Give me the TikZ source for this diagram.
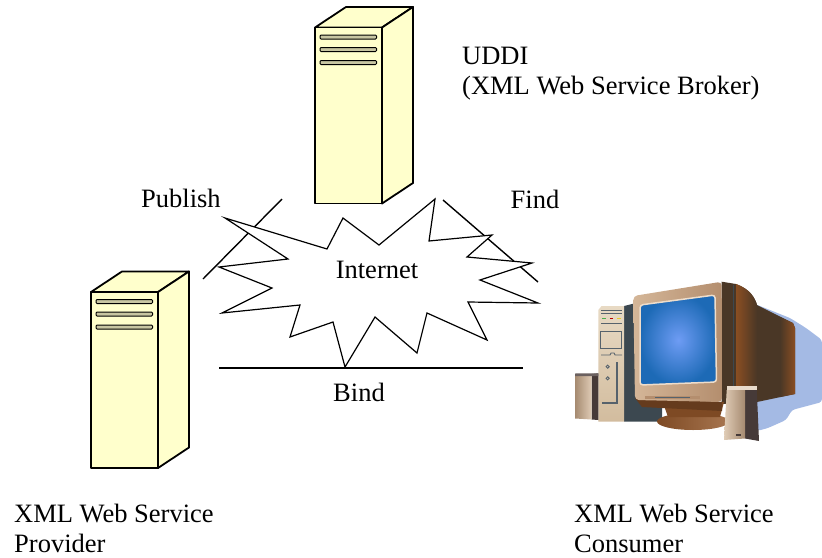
\documentclass[tikz,border=0pt]{standalone}
\usepackage{fontspec}
\setmainfont{Liberation Serif}
\usetikzlibrary{positioning}
\definecolor{servyellow}{HTML}{FFFFCC}
\definecolor{slotgrey}{HTML}{C8C6A2}
\definecolor{shadowblue}{HTML}{A4BAE4}
\definecolor{casedark}{HTML}{4A3726}
\definecolor{caseside}{HTML}{8A4E22}
\definecolor{towerbeige}{HTML}{E8DAC4}
\definecolor{towershade}{HTML}{D2BC9E}
\definecolor{towerside}{HTML}{3C4850}
\definecolor{towerline}{HTML}{56626C}
\definecolor{bezelmain}{HTML}{D4B698}
\definecolor{bezeldark}{HTML}{B48E6E}
\definecolor{bezellight}{HTML}{EEDDCB}
\definecolor{scrlight}{HTML}{6E9CF4}
\definecolor{scrdark}{HTML}{1D6AB6}
\definecolor{standbrown}{HTML}{7E4A24}
\definecolor{standlight}{HTML}{A87650}
\definecolor{spkfront}{HTML}{A58A70}
\definecolor{spklight}{HTML}{E0CCB6}
\definecolor{spkdark}{HTML}{463A38}
\tikzset{
  servbody/.style = {
    draw,
    fill=servyellow,
    line width=1.8pt,
    line join=round
  },
  servslot/.style = {
    draw,
    fill=slotgrey,
    line width=1pt,
    rounded corners=1pt
  },
  burst/.style = {
    draw,
    fill=white,
    line width=1.2pt,
    line join=miter
  },
  link/.style = {
    line width=1.4pt
  },
  lbl/.style = {
    inner sep=0pt,
    font=\fontsize{26.5}{30}\selectfont
  },
  caption/.style = {
    lbl,
    align=left,
    anchor=north west
  }
}

\begin{document}
\begin{tikzpicture}[x=1pt,y=-1pt]
  \useasboundingbox (0,0) rectangle (822,557);

  % the two tower servers (UDDI broker, provider)
  \foreach \sx/\sy in {315/27.5, 91/292}{
    \draw[servbody] (\sx,\sy) -- ++(31,-20.5) -- ++(67,0) -- ++(-31,20.5) -- cycle;
    \draw[servbody] (\sx+67,\sy) -- ++(31,-20.5) -- ++(0,176) -- ++(-31,20.5) -- cycle;
    \draw[servbody] (\sx,\sy) rectangle ++(67,176);
    \foreach \dy in {9.5,22,35}
      \draw[servslot] (\sx+5,\sy+\dy-2) rectangle ++(56.5,4);
  }

  % links
  \coordinate (pubtop) at (282,199);
  \coordinate (pubend) at (203,279);
  \coordinate (findtop) at (443,200);
  \coordinate (findend) at (538,282);
  \coordinate (bindl) at (219,368);
  \coordinate (bindr) at (523,368);
  \coordinate (bindmid) at (359,368);
  \draw[link] (pubtop) -- (pubend);
  \draw[link] (findtop) -- (findend);
  \draw[link] (bindl) -- (bindr);

  % internet cloud
  \draw[burst] (225,218) -- (327,249) -- (343,218) -- (379,245) -- (435,199)
    -- (429,241) -- (492,235) -- (467,257) -- (532,263) -- (480,280)
    -- (538,303) -- (468,302) -- (487,340) -- (427,313) -- (417,353)
    -- (375,317) -- (345,367) -- (333,322) -- (290,337) -- (300,305)
    -- (222,313) -- (272,288) -- (219,267) -- (288,259) -- cycle;

  % labels
  \node[caption] (uddi) at (462,46.5) {UDDI\\(XML Web Service Broker)};
  \node[lbl, anchor=base west] (publish) at (141,207.5) {Publish};
  \node[lbl, anchor=base west] (find) at (510.5,208) {Find};
  \node[lbl, anchor=base] (net) at (377,278) {Internet};
  \node[lbl, below=15pt of bindmid] (bind) {Bind};
  \node[caption] (prov) at (14,504) {XML Web Service\\Provider};
  \node[caption] (cons) at (574,504) {XML Web Service\\Consumer};

  % consumer workstation
  \begin{scope}
    % shadow
    \fill[shadowblue, rounded corners=3pt] (755,304) -- (790,318) -- (806,328)
      -- (822,340) -- (822,402) -- (792,410) -- (786,420) -- (768,428)
      -- (757,431) -- (757,400) -- cycle;
    % monitor case
    \fill[casedark] (721.7,281.7) -- (736,284) .. controls (750,289) and (755,298) .. (757,305)
      -- (793,323) -- (795,328) -- (795,394) -- (757,402) -- (721.7,404) -- cycle;
    \shade[left color=casedark, right color=caseside] (780,317) -- (793,323) -- (795,328)
      -- (795,394) -- (780,397) -- cycle;
    \shade[left color=caseside, right color=casedark] (736,284) .. controls (750,289) and (755,298) .. (757,305)
      -- (757,402) -- (736,402) -- cycle;
    \draw[towerside, line width=1pt] (733.5,285) -- (733.5,386);
    % tower
    \fill[towerside] (624,306) -- (636,303) -- (636,395) -- (662,400) -- (662,421.7)
      -- (624,421.7) -- cycle;
    \shade[top color=towerbeige, bottom color=towershade] (598.3,421.7) -- (598.3,310)
      -- (601.5,306) -- (624,306) -- (624,421.7) -- cycle;
    \begin{scope}[towerline, line width=0.9pt]
      \draw (601,310) -- (622,310);
      \draw (601,313.5) -- (622,313.5);
      \draw (601,323.5) -- (622,323.5);
      \draw (600.7,331.7) rectangle (621.7,348.3);
      \draw (601,355) -- (610,355) -- (611,353) -- (614,353) -- (615,355) -- (622,355);
      \draw (607.7,366.7) circle [radius=1.6];
      \draw (607.7,378.3) circle [radius=1.6];
      \draw[line width=1.3pt] (617,362) -- (617,403) -- (601.5,403);
    \end{scope}
    \fill[green!55!black!70] (602,317.5) rectangle ++(3.5,1.8);
    \fill[red!75!black] (609.5,317.5) rectangle ++(3.5,1.8);
    \fill[yellow!60!brown] (617,317.5) rectangle ++(3.5,1.8);
    % left speaker
    \fill[spkdark] (591.7,374) -- (598.3,373.3) -- (598.3,420) -- (591.7,419.5) -- cycle;
    \shade[left color=spkfront, right color=spklight] (575,376) -- (591.7,376)
      -- (591.7,419.5) -- (575,418.5) -- cycle;
    \fill[spkdark!80] (575,373.5) -- (598.3,373.3) -- (598.3,376) -- (575,376) -- cycle;
    % stand
    \shade[left color=standbrown, right color=standlight] (693,421.5) ellipse [x radius=36, y radius=8.5];
    \fill[standbrown] (662,400) -- (724,402) -- (720,417) -- (668,417) -- cycle;
    \fill[standbrown!80!black] (635,398) -- (722,402) -- (722,411) -- (642,407) -- cycle;
    % bezel and screen
    \shade[left color=bezelmain, right color=bezeldark, rounded corners=4pt] (633.3,296)
      -- (721.7,281.7) -- (722,402) -- (635,400) -- cycle;
    \shade[inner color=scrlight, outer color=scrdark, draw=bezellight, line width=1.5pt,
      rounded corners=3pt] (640,305) -- (715,295) -- (716.5,382) -- (640,385) -- cycle;
    \fill[bezeldark] (645,395.5) rectangle (700,399);
    \draw[towerline, line width=0.6pt] (655,397.2) -- (690,397.2);
    % right speaker
    \fill[spkdark] (745,388.3) -- (756.7,388.3) -- (759,441) -- (745,438.5) -- cycle;
    \shade[left color=spklight, right color=spkfront] (726.7,390) -- (745,390)
      -- (745,438.5) -- (724,440) -- cycle;
    \fill[spklight!70!white] (726.7,386) -- (756.7,386) -- (756.7,390) -- (726.7,390) -- cycle;
    \fill[spkdark] (736,434) rectangle ++(5,1.5);
  \end{scope}
\end{tikzpicture}
\end{document}
